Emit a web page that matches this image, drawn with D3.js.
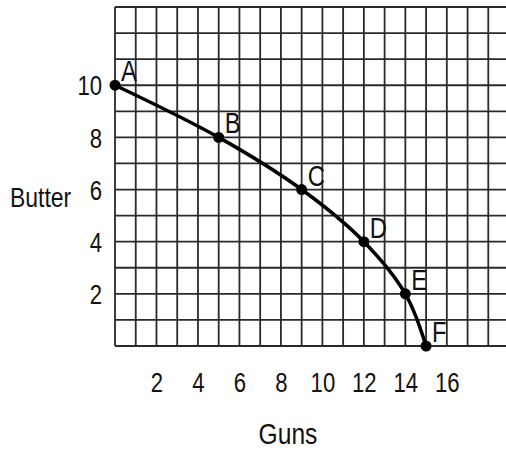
<!DOCTYPE html>
<html><head><meta charset="utf-8">
<script src="https://cdn.jsdelivr.net/npm/d3@7"></script>
<style>
html,body{margin:0;padding:0;background:#fff;}
text{font-family:"Liberation Sans",Arial,sans-serif;fill:#111;}
</style></head>
<body><svg id="c" width="506" height="450"></svg>
<script>
const pointLabels = ["A","B","C","D","E","F"];
const gunsValues = [0, 5, 9, 12, 14, 15];
const butterValues = [10, 8, 6, 4, 2, 0];
const xTickValues = [2, 4, 6, 8, 10, 12, 14, 16];
const yTickValues = [2, 4, 6, 8, 10];
const xTitle = "Guns";
const yTitle = "Butter";

const SX = 0.82; // narrow-font emulation
const svg = d3.select("#c");
const x = d3.scaleLinear().domain([0, 18]).range([115, 488.3]);
const y = d3.scaleLinear().domain([0, 13]).range([346, 7]);

// grid
const g = svg.append("g").attr("stroke", "#2a2a2a").attr("stroke-width", 1.8);
g.selectAll("line.v").data(d3.range(0, 19)).join("line")
  .attr("x1", d => x(d)).attr("x2", d => x(d))
  .attr("y1", y(0)).attr("y2", y(13));
g.selectAll("line.h").data(d3.range(0, 14)).join("line")
  .attr("x1", x(0)).attr("x2", x(19))
  .attr("y1", d => y(d)).attr("y2", d => y(d));

function narrowText(sel, tx, ty, size, anchor, str) {
  return sel.append("text").attr("transform", `translate(${tx},${ty}) scale(${SX},1)`)
    .attr("font-size", size).attr("text-anchor", anchor).text(str);
}

// axes tick labels
const xAxis = d3.axisBottom(x).tickValues(xTickValues).tickSize(0).tickPadding(0);
const xa = svg.append("g").attr("transform", "translate(0,373)").call(xAxis);
xa.select(".domain").remove();
xa.selectAll("text").attr("font-size", 27).attr("dy", "0.72em").attr("transform", `scale(${SX},1)`)
  .style("font-family", "'Liberation Sans',Arial,sans-serif").attr("fill", "#111");

const yAxis = d3.axisLeft(y).tickValues(yTickValues).tickSize(0).tickPadding(0);
const ya = svg.append("g").attr("transform", "translate(102,0)").call(yAxis);
ya.select(".domain").remove();
ya.selectAll("text").attr("font-size", 27).attr("dy", "0.36em").attr("transform", `scale(${SX},1)`)
  .style("font-family", "'Liberation Sans',Arial,sans-serif").attr("fill", "#111");

narrowText(svg, 288, 444, 30, "middle", xTitle);
narrowText(svg, 10, 207, 28, "start", yTitle);

// curve
const data = gunsValues.map((v, i) => ({gx: v, by: butterValues[i], label: pointLabels[i]}));
const line = d3.line().x(d => x(d.gx)).y(d => y(d.by)).curve(d3.curveCatmullRom.alpha(0.5));
svg.append("path").datum(data).attr("d", line)
  .attr("fill", "none").attr("stroke", "#000").attr("stroke-width", 3.5);
svg.selectAll("circle.p").data(data).join("circle")
  .attr("cx", d => x(d.gx)).attr("cy", d => y(d.by)).attr("r", 5.5).attr("fill", "#000");
svg.selectAll("text.pl").data(data).join("text")
  .attr("transform", d => `translate(${x(d.gx) + 6},${y(d.by) - 4}) scale(${SX},1)`)
  .attr("font-size", 29).text(d => d.label);
</script></body></html>
